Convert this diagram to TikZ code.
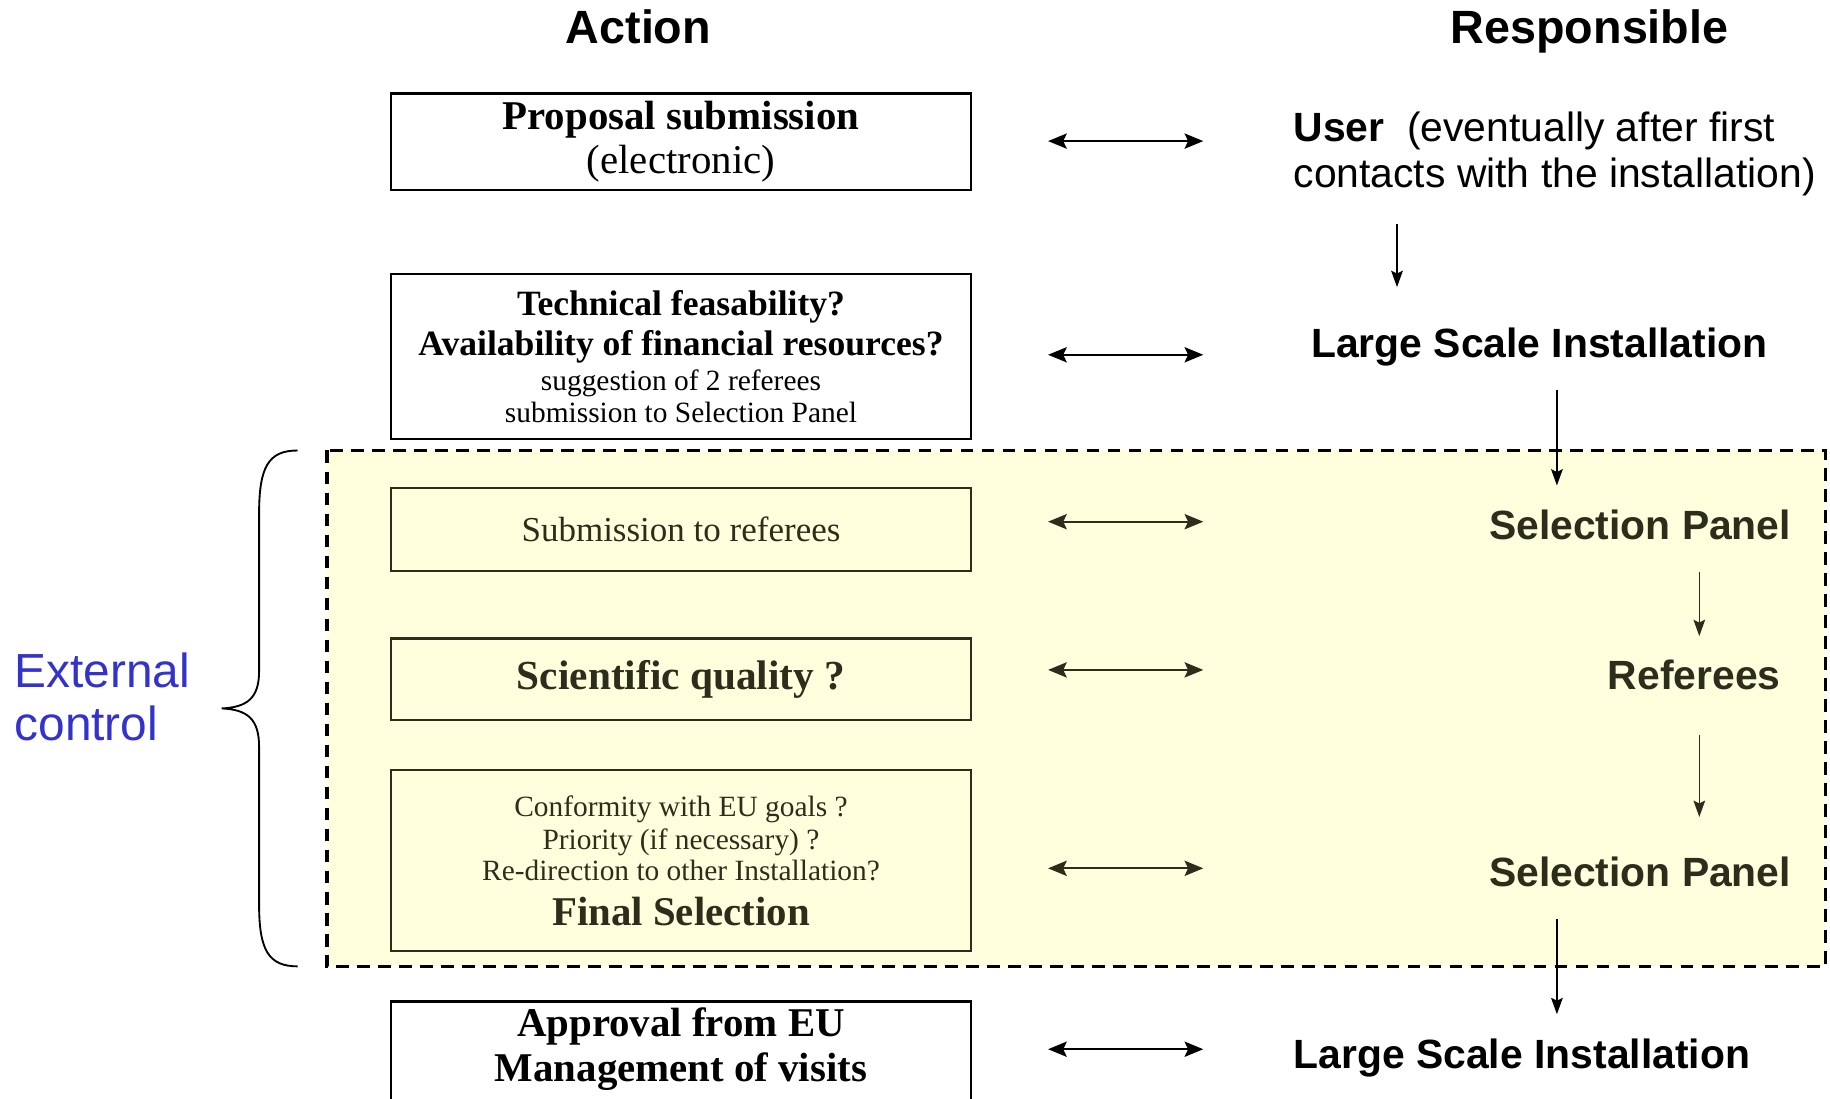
\documentclass[tikz,border=0pt]{standalone}
\usepackage{fontspec}
\setmainfont{Liberation Serif}
\setsansfont{Liberation Sans}
\usetikzlibrary{arrows.meta}

\definecolor{panelyellow}{RGB}{255,255,222}
\definecolor{ctrlblue}{RGB}{51,51,204}
\definecolor{ink}{RGB}{45,45,28}

\newcommand{\fsz}[2]{\fontsize{#1}{#2}\selectfont}

\tikzset{
  actbox/.style={draw, line width=1pt, minimum width=248.5pt,
    align=center, inner sep=0pt, font=\fsz{17.5}{19}},
  head/.style={font=\sffamily\bfseries\fsz{20}{23},
    inner sep=0pt, text height=14.4pt, text depth=0pt},
  who/.style={font=\sffamily\bfseries\fsz{17.5}{20},
    inner sep=0pt, text height=12.6pt, text depth=0pt},
  both/.style={{Stealth[length=8pt,width=6.5pt,inset=1.5pt]}-{Stealth[length=8pt,width=6.5pt,inset=1.5pt]},
    line width=1pt},
  down/.style={-{Stealth[length=7pt,width=5pt,inset=1.2pt]}, line width=0.6pt}
}

\begin{document}
\begin{tikzpicture}[x=0.5pt, y=-0.5pt]
  \useasboundingbox (0,0) rectangle (1568,941);
  \clip (0,0) rectangle (1568,941);

  % headings
  \node[head] (action) at (547,23) {Action};
  \node[head] (resp) at (1362,23) {Responsible};

  % external control region
  \filldraw[
    line width=1.5pt,
    dash pattern=on 5.5pt off 3.5pt,
    fill=panelyellow
  ] (280,386) rectangle (1564,828);

  \draw[line width=0.8pt]
    (255,386) .. controls (230,386) and (222,400) .. (222,440)
    -- (222,575) .. controls (222,598) and (212,606) .. (190,607)
    .. controls (212,608) and (222,616) .. (222,640)
    -- (222,775) .. controls (222,814) and (230,828) .. (255,828);
  \node[anchor=west, align=left, inner sep=0pt, text=ctrlblue,
    font=\sffamily\fsz{20.5}{23}] (ext) at (12,597) {External\\control};

  % action column
  \node[actbox, minimum height=41.5pt] (prop) at (583.5,121.5)
    {\bfseries Proposal submission\\(electronic)};
  \node[actbox, minimum height=70.5pt] (tech) at (583.5,305.5)
    {\bfseries\fsz{15.25}{17}Technical feasability?\\[-2pt]
     \bfseries\fsz{15.25}{17}Availability of financial resources?\\[-4pt]
     \fsz{12.6}{16}suggestion of 2 referees\\[-5.5pt]
     \fsz{12.6}{13.5}submission to Selection Panel};
  \node[actbox, draw=ink, text=ink, minimum height=35.5pt,
    font=\fsz{15}{17}] (subm) at (583.5,453.5) {Submission to referees};
  \node[actbox, draw=ink, text=ink, minimum height=35pt,
    font=\bfseries\fsz{17.7}{19}] (sciq) at (583.5,582) {Scientific quality ?};
  \node[actbox, draw=ink, text=ink, minimum height=77.5pt] (final) at (583.5,737.5)
    {\fsz{12.6}{14}Conformity with EU goals ?\\[-5pt]
     \fsz{12.6}{14}Priority (if necessary) ?\\[-5.5pt]
     \fsz{12.6}{13.5}Re-direction to other Installation?\\
     \bfseries\fsz{17.5}{17.5}Final Selection};
  \node[align=center, inner sep=0pt, font=\bfseries\fsz{17.5}{19}] (appr) at (583.5,899)
    {Approval from EU\\Management of visits};
  \draw[line width=1pt] (335,975) |- (832,858) -- (832,975);

  % responsible column
  \node[anchor=west, align=left, inner sep=0pt, font=\sffamily\fsz{17.5}{20}] (user) at (1108,132)
    {\textbf{User}\ \ (eventually after first\\contacts with the installation)};
  \node[who] (lsi1) at (1319,294) {Large Scale Installation};
  \node[who, anchor=east, text=ink] (sp1) at (1535,450) {Selection Panel};
  \node[who, anchor=east, text=ink] (ref) at (1526,578) {Referees};
  \node[who, anchor=east, text=ink] (sp2) at (1535,747) {Selection Panel};
  \node[who] (lsi2) at (1304,903) {Large Scale Installation};

  % who is asked
  \draw[both] ([xshift=32.5pt, yshift=0.3pt]prop.east) -- ([xshift=99pt, yshift=0.3pt]prop.east);
  \draw[both] ([xshift=32.5pt, yshift=0.75pt]tech.east) -- ([xshift=99pt, yshift=0.75pt]tech.east);
  \draw[both, ink] ([xshift=32.5pt, yshift=3.25pt]subm.east) -- ([xshift=99pt, yshift=3.25pt]subm.east);
  \draw[both, ink] ([xshift=32.5pt, yshift=4pt]sciq.east) -- ([xshift=99pt, yshift=4pt]sciq.east);
  \draw[both, ink] ([xshift=32.5pt, yshift=-3.25pt]final.east) -- ([xshift=99pt, yshift=-3.25pt]final.east);
  \draw[both] ([xshift=32.5pt]appr.east -| prop.east) -- ([xshift=99pt]appr.east -| prop.east);

  % hand-over
  \coordinate (d1a) at (1197,192);  \coordinate (d1b) at (1197,246);
  \coordinate (d2a) at (1334,334);  \coordinate (d2b) at (1334,416);
  \coordinate (d3a) at (1456,490);  \coordinate (d3b) at (1456,545);
  \coordinate (d4a) at (1456,630);  \coordinate (d4b) at (1456,700);
  \coordinate (d5a) at (1334,787);  \coordinate (d5b) at (1334,869);
  \draw[down] (d1a) -- (d1b);
  \draw[down] (d2a) -- (d2b);
  \draw[down, ink] (d3a) -- (d3b);
  \draw[down, ink] (d4a) -- (d4b);
  \draw[down] (d5a) -- (d5b);
\end{tikzpicture}
\end{document}
